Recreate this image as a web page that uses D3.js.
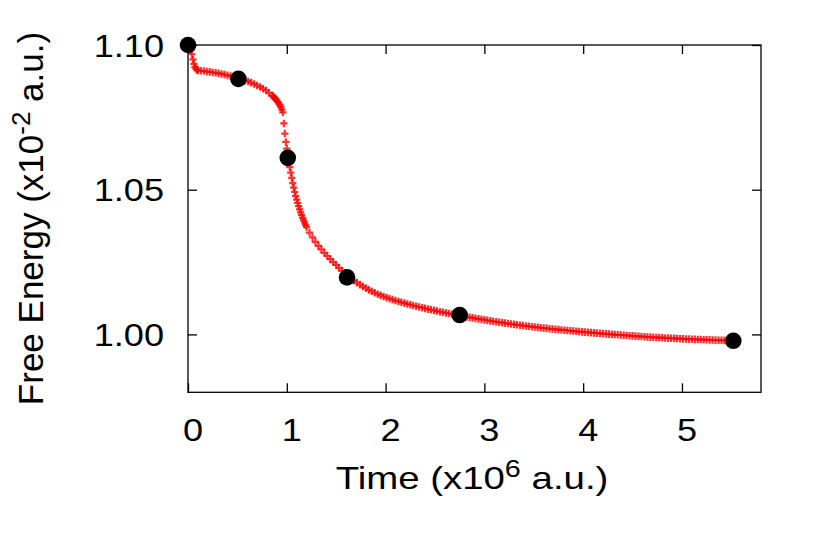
<!DOCTYPE html>
<html lang="en">
<head>
    <meta charset="UTF-8">
    <title>Free Energy vs Time</title>
    <script src="https://d3js.org/d3.v7.js"></script>
    <style>
        body { margin: 0; background: #fff; }
        text { font-family: "Liberation Sans", Arial, Helvetica, sans-serif; fill: #000; }
    </style>
</head>
<body>
    <svg></svg>
    <script>
        // run output (time in 1e6 a.u., energy in 1e-2 a.u.)
        const runTime = [
            0.00, 0.01, 0.02, 0.03, 0.04, 0.05, 0.06, 0.07, 0.08, 0.09, 0.10,
            0.13, 0.16, 0.19, 0.22, 0.25, 0.28, 0.31, 0.34, 0.37, 0.40, 0.43, 0.46, 0.49,
            0.52, 0.55, 0.58, 0.61, 0.64, 0.67, 0.70, 0.73, 0.76, 0.79, 0.82, 0.85,
            0.86, 0.87, 0.88, 0.89, 0.90, 0.91, 0.92, 0.93, 0.94, 0.95, 0.96, 0.97, 0.98, 0.99,
            1.00, 1.01, 1.02, 1.03, 1.04, 1.05, 1.06, 1.07, 1.08, 1.09, 1.10, 1.11, 1.12,
            1.13, 1.14, 1.15, 1.16, 1.17, 1.18, 1.19, 1.20,
            1.23, 1.26, 1.29, 1.32, 1.35, 1.38, 1.41, 1.44, 1.47, 1.50, 1.53, 1.56, 1.59,
            1.62, 1.65, 1.68, 1.71, 1.74, 1.77, 1.80, 1.83, 1.86, 1.89, 1.92, 1.95, 1.98,
            2.01, 2.04, 2.07, 2.10, 2.13, 2.16, 2.19, 2.22, 2.25, 2.28, 2.31, 2.34, 2.37,
            2.40, 2.43, 2.46, 2.49, 2.52, 2.55, 2.58, 2.61, 2.64, 2.67, 2.70, 2.73, 2.76,
            2.79, 2.82, 2.85, 2.88, 2.91, 2.94, 2.97, 3.00, 3.03, 3.06, 3.09, 3.12, 3.15,
            3.18, 3.21, 3.24, 3.27, 3.30, 3.33, 3.36, 3.39, 3.42, 3.45, 3.48, 3.51, 3.54,
            3.57, 3.60, 3.63, 3.66, 3.69, 3.72, 3.75, 3.78, 3.81, 3.84, 3.87, 3.90, 3.93,
            3.96, 3.99, 4.02, 4.05, 4.08, 4.11, 4.14, 4.17, 4.20, 4.23, 4.26, 4.29, 4.32,
            4.35, 4.38, 4.41, 4.44, 4.47, 4.50, 4.53, 4.56, 4.59, 4.62, 4.65, 4.68, 4.71,
            4.74, 4.77, 4.80, 4.83, 4.86, 4.89, 4.92, 4.95, 4.98, 5.01, 5.04, 5.07, 5.10,
            5.13, 5.16, 5.19, 5.22, 5.25, 5.28, 5.31, 5.34, 5.37, 5.40, 5.43, 5.46, 5.49,
            5.52
        ];
        const runEnergy = [
            1.1000, 1.0996, 1.0990, 1.0982, 1.0968, 1.0950, 1.0935, 1.0924, 1.0918, 1.0914, 1.0912,
            1.0911, 1.0910, 1.0908, 1.0907, 1.0905, 1.0904, 1.0902, 1.0900, 1.0898, 1.0895, 1.0893, 1.0890, 1.0887,
            1.0884, 1.0881, 1.0877, 1.0874, 1.0870, 1.0865, 1.0860, 1.0855, 1.0849, 1.0843, 1.0835, 1.0826,
            1.0823, 1.0819, 1.0816, 1.0812, 1.0808, 1.0803, 1.0798, 1.0792, 1.0785, 1.0777, 1.0767, 1.0729, 1.0694, 1.0665,
            1.0642, 1.0621, 1.0600, 1.0578, 1.0559, 1.0541, 1.0523, 1.0507, 1.0492, 1.0478, 1.0466, 1.0454, 1.0443,
            1.0432, 1.0422, 1.0412, 1.0403, 1.0394, 1.0386, 1.0378, 1.0371,
            1.0352, 1.0335, 1.0320, 1.0306, 1.0294, 1.0282, 1.0271, 1.0260, 1.0250, 1.0240, 1.0230, 1.0220, 1.0211,
            1.0202, 1.0194, 1.0186, 1.0179, 1.0172, 1.0166, 1.0160, 1.0154, 1.0149, 1.0144, 1.0139, 1.01350, 1.01310,
            1.01272, 1.01236, 1.01202, 1.01170, 1.01139, 1.01109, 1.01080, 1.01052, 1.01025, 1.00999, 1.00973, 1.00948, 1.00923,
            1.00899, 1.00875, 1.00852, 1.00829, 1.00807, 1.00785, 1.00764, 1.00743, 1.00723, 1.00703, 1.00683, 1.00664, 1.00645,
            1.00626, 1.00607, 1.00589, 1.00571, 1.00553, 1.00536, 1.00519, 1.00502, 1.00485, 1.00469, 1.00453, 1.00437, 1.00421,
            1.00406, 1.00391, 1.00376, 1.00361, 1.00347, 1.00333, 1.00319, 1.00306, 1.00293, 1.00280, 1.00267, 1.00255, 1.00243,
            1.00231, 1.00219, 1.00208, 1.00197, 1.00186, 1.00175, 1.00165, 1.00155, 1.00145, 1.00135, 1.00125, 1.00116, 1.00107,
            1.00098, 1.00089, 1.00080, 1.00071, 1.00062, 1.00053, 1.00044, 1.00035, 1.00027, 1.00019, 1.00011, 1.00003, 0.99995,
            0.99987, 0.99979, 0.99971, 0.99963, 0.99955, 0.99948, 0.99941, 0.99934, 0.99927, 0.99920, 0.99913, 0.99907, 0.99901,
            0.99895, 0.99889, 0.99883, 0.99878, 0.99872, 0.99867, 0.99862, 0.99857, 0.99852, 0.99847, 0.99842, 0.99838, 0.99834,
            0.99830, 0.99826, 0.99822, 0.99818, 0.99814, 0.99811, 0.99807, 0.99803, 0.99800, 0.99796, 0.99793, 0.99789, 0.99786,
            0.99782
        ];

        // snapshot markers (black dots)
        const snapTime = [0.00, 0.51, 1.01, 1.61, 2.75, 5.52];
        const snapEnergy = [1.1000, 1.0883, 1.0610, 1.0197, 1.0067, 0.9978];

        const xTicks = [0, 1, 2, 3, 4, 5];
        const yTicks = [1.00, 1.05, 1.10];
        const yTickLabels = ["1.00", "1.05", "1.10"];

        const width = 830;
        const height = 554;
        const plotLeft = 188, plotRight = 761, plotTop = 45, plotBottom = 392.3;

        const svg = d3.select("svg")
            .attr("width", width)
            .attr("height", height);

        const x = d3.scaleLinear().domain([0, 5.8]).range([plotLeft, plotRight]);
        const y = d3.scaleLinear().domain([0.98, 1.10]).range([plotBottom, plotTop]);

        // inward ticks on all four sides
        const tickLen = 9;
        function styleTicks(g) {
            g.select(".domain").remove();
            g.selectAll("line").attr("stroke", "#000").attr("stroke-width", 1.3);
        }
        svg.append("g").attr("transform", `translate(0,${plotBottom})`)
            .call(d3.axisBottom(x).tickValues(xTicks).tickSize(-tickLen).tickFormat(""))
            .call(styleTicks);
        svg.append("g").attr("transform", `translate(0,${plotTop})`)
            .call(d3.axisTop(x).tickValues(xTicks).tickSize(-tickLen).tickFormat(""))
            .call(styleTicks);
        svg.append("g").attr("transform", `translate(${plotLeft},0)`)
            .call(d3.axisLeft(y).tickValues(yTicks).tickSize(-tickLen).tickFormat(""))
            .call(styleTicks);
        svg.append("g").attr("transform", `translate(${plotRight},0)`)
            .call(d3.axisRight(y).tickValues(yTicks).tickSize(-tickLen).tickFormat(""))
            .call(styleTicks);

        // frame
        svg.append("rect")
            .attr("x", plotLeft).attr("y", plotTop)
            .attr("width", plotRight - plotLeft).attr("height", plotBottom - plotTop)
            .attr("fill", "none")
            .attr("stroke", "#000")
            .attr("stroke-width", 1.3);

        // tick labels (the font in the picture runs a bit wide)
        const stretch = 1.13;
        svg.append("g").selectAll("text")
            .data(xTicks)
            .join("text")
            .attr("text-anchor", "middle")
            .attr("font-size", 32)
            .attr("transform", d => `translate(${x(d) + 5},441) scale(${stretch},1)`)
            .text(d => d);

        svg.append("g").selectAll("text")
            .data(yTicks)
            .join("text")
            .attr("text-anchor", "end")
            .attr("font-size", 32)
            .attr("transform", d => `translate(164,${y(d) + 11.5}) scale(${stretch},1)`)
            .text((d, i) => yTickLabels[i]);

        // curve points as "+" markers
        const run = runTime.map((t, i) => [t, runEnergy[i]]);
        svg.append("g")
            .attr("stroke", "#ff0000")
            .attr("stroke-width", 2.2)
            .attr("stroke-opacity", 0.8)
            .attr("fill", "none")
            .selectAll("path")
            .data(run)
            .join("path")
            .attr("d", d => `M${x(d[0]) - 3.6},${y(d[1])}h7.2M${x(d[0])},${y(d[1]) - 3.8}v7.6`);

        // snapshot dots
        svg.append("g").selectAll("circle")
            .data(snapTime.map((t, i) => [t, snapEnergy[i]]))
            .join("circle")
            .attr("cx", d => x(d[0]))
            .attr("cy", d => y(d[1]))
            .attr("r", 8.3)
            .attr("fill", "#000");

        // axis titles
        const xTitle = svg.append("text")
            .attr("text-anchor", "middle")
            .attr("font-size", 32)
            .attr("transform", "translate(472,489) scale(1.2,1)");
        xTitle.append("tspan").text("Time (x10");
        xTitle.append("tspan").attr("font-size", 24).attr("dy", -12).text("6");
        xTitle.append("tspan").attr("dy", 12).text(" a.u.)");

        const yTitle = svg.append("text")
            .attr("text-anchor", "middle")
            .attr("font-size", 35)
            .attr("transform", "translate(43,218.5) rotate(-90)");
        yTitle.append("tspan").text("Free Energy (x10");
        yTitle.append("tspan").attr("font-size", 26).attr("dy", -13).text("-2");
        yTitle.append("tspan").attr("dy", 13).text(" a.u.)");
    </script>
</body>
</html>
